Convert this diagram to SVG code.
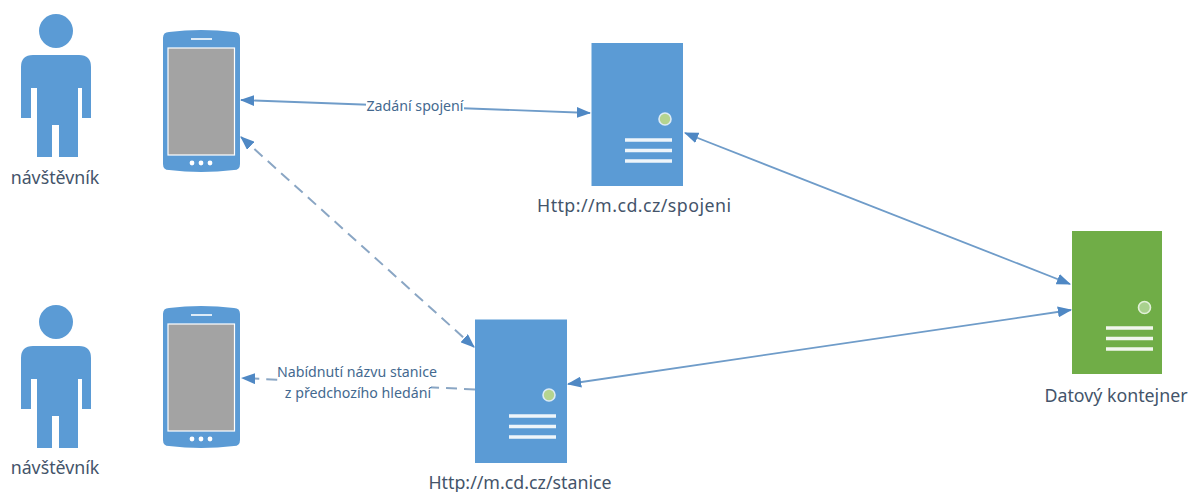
<svg xmlns="http://www.w3.org/2000/svg" xmlns:xlink="http://www.w3.org/1999/xlink" width="1191" height="492" viewBox="0 0 1191 492">
<style>
.label{font-family:"Noto Sans","Open Sans",sans-serif;font-size:17.8px;fill:#44546a;text-anchor:middle}
.clabel{font-family:"Noto Sans","Open Sans",sans-serif;font-size:14.200px;fill:#44698f;text-anchor:middle}
.conn{fill:none;stroke:#6f9cc9;stroke-width:1.8;marker-start:url(#a);marker-end:url(#a)}
.dash{stroke:#8aa6c4;stroke-width:2;stroke-dasharray:11 7}
.one{marker-start:none}
.bar{stroke:#fff;stroke-width:3.400;opacity:.9}
.blue{fill:#5b9bd5}
</style>
<defs>
<marker id="a" viewBox="0 0 13 10" refX="12" refY="5" markerUnits="userSpaceOnUse" markerWidth="14.300" markerHeight="11" orient="auto-start-reverse"><path d="M0 0L13 5L0 10Z" fill="#4f88c4"/></marker>
<g id="person">
<circle cx="56" cy="31" r="17" class="blue"/>
<path class="blue" d="M33 55H79Q91 55 91 67V118H82V88H78V157H59V125H52V157H37V88H31V118H21V67Q21 55 33 55Z"/>
</g>
<g id="phone">
<path class="blue" d="M163 38Q163 32 169 32Q201 28 234 32Q240 32 240 38V164Q240 170 234 170Q201 174 169 170Q163 170 163 164Z"/>
<rect x="168" y="48" width="66.500" height="107" fill="#a3a3a3" stroke="#fff" stroke-width="1.200"/>
<path d="M191 39H212" stroke="#fff" stroke-width="1.600"/>
<circle cx="192" cy="163" r="2.400" fill="#fff"/><circle cx="201" cy="163" r="2.400" fill="#fff"/><circle cx="210" cy="163" r="2.400" fill="#fff"/>
</g>
<g id="server-detail">
<path class="bar" d="M34 97H81M34 107.500H81M34 118H81"/>
</g>
</defs>
<rect width="1191" height="492" fill="#fff"/>
<g id="connectors">
<path class="conn" d="M241 100L590 113"/>
<path class="conn dash" d="M241 137L474 347"/>
<path class="conn" d="M685 133L1070 284"/>
<path class="conn" d="M568 384L1071 310"/>
<path class="conn dash one" d="M475 389.500L242 378"/>
<rect x="366" y="99" width="98" height="15" fill="#fff"/>
<rect x="278" y="364" width="159" height="17" fill="#fff"/>
<rect x="285" y="381" width="146" height="21" fill="#fff"/>
<text class="clabel" x="415" y="111">Zadání spojení</text>
<text class="clabel" x="357" y="377">Nabídnutí názvu stanice</text>
<text class="clabel" x="358" y="398">z předchozího hledání</text>
</g>
<g id="person-1"><use xlink:href="#person"/><text class="label" x="55" y="184">návštěvník</text></g>
<g id="person-2"><use xlink:href="#person" y="291"/><text class="label" x="55" y="474">návštěvník</text></g>
<g id="phone-1"><use xlink:href="#phone"/></g>
<g id="phone-2"><use xlink:href="#phone" y="276"/></g>
<g id="server-spojeni">
<rect x="591.500" y="43" width="91.500" height="143" class="blue"/>
<circle cx="665" cy="119" r="6" fill="#b5d48f" stroke="#dcebf5" stroke-width="1.600"/>
<use xlink:href="#server-detail" x="591" y="43"/>
<text class="label" x="634" y="212" textLength="194">Http://m.cd.cz/spojeni</text>
</g>
<g id="server-stanice">
<rect x="475" y="319.500" width="92" height="143.500" class="blue"/>
<circle cx="549" cy="395" r="6" fill="#b5d48f" stroke="#dcebf5" stroke-width="1.600"/>
<use xlink:href="#server-detail" x="475" y="319"/>
<text class="label" x="520" y="489">Http://m.cd.cz/stanice</text>
</g>
<g id="server-datovy">
<rect x="1072" y="231" width="90" height="143" fill="#70ad47"/>
<circle cx="1144.500" cy="307.500" r="6" fill="#a9d18e" stroke="#e2f0d9" stroke-width="1.600"/>
<use xlink:href="#server-detail" x="1072" y="231"/>
<text class="label" x="1116" y="402">Datový kontejner</text>
</g>
</svg>
